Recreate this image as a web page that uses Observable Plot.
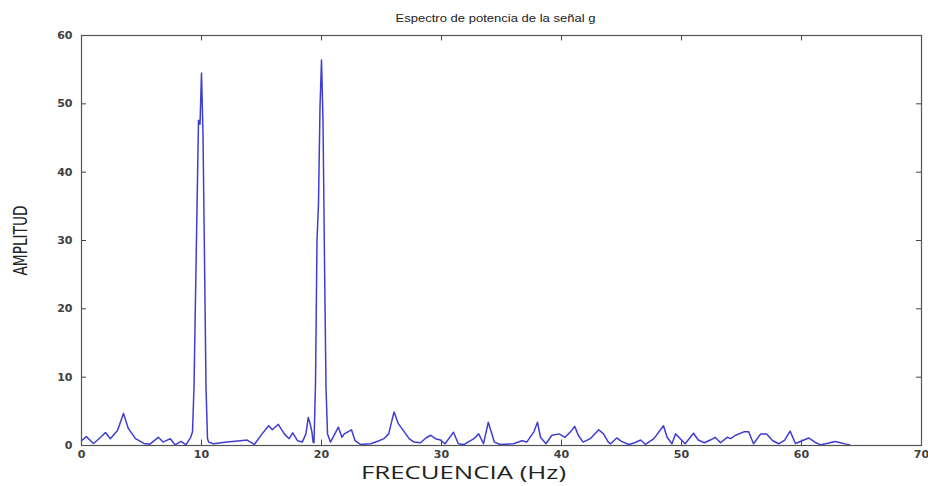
<!DOCTYPE html>
<html>
<head>
<meta charset="utf-8">
<script src="https://cdn.jsdelivr.net/npm/d3@7"></script>
<script src="https://cdn.jsdelivr.net/npm/@observablehq/plot@0.6"></script>
<style>
  html, body { margin: 0; padding: 0; background: white; }
</style>
</head>
<body>
<div id="chart"></div>
<script>
const title = "Espectro de potencia de la señal g";
const xLabel = "FRECUENCIA (Hz)";
const yLabel = "AMPLITUD";
const xTicks = [0, 10, 20, 30, 40, 50, 60, 70];
const yTicks = [0, 10, 20, 30, 40, 50, 60];

const freq = [
  0, 0.4, 1.0, 1.6, 2.0, 2.4, 3.0, 3.5, 3.9, 4.5, 5.2, 5.7, 6.4, 6.8, 7.4, 7.8, 8.3, 8.7, 9.1,
  9.25, 9.375, 9.5, 9.625, 9.75, 9.875, 10.0, 10.125, 10.25, 10.375, 10.5, 10.6,
  11.0, 12.1, 13.25, 13.8, 14.4, 15.05, 15.6, 15.9, 16.4, 16.9, 17.3, 17.6, 18.0, 18.4, 18.7, 18.9, 19.05, 19.2, 19.3,
  19.375, 19.5, 19.625, 19.75, 19.875, 20.0, 20.125, 20.25, 20.375, 20.5,
  20.75, 21.2, 21.4, 21.7, 21.9, 22.5, 22.8, 23.25, 24.1, 24.8, 25.2, 25.6, 25.9, 26.05, 26.4, 26.9, 27.3, 27.7,
  28.25, 28.7, 29.1, 29.5, 29.9, 30.3, 31.0, 31.4, 31.9, 32.7, 33.1, 33.5, 33.9, 34.4, 34.9, 36.0, 36.7, 37.1,
  37.7, 38.0, 38.25, 38.7, 39.2, 39.8, 40.3, 40.75, 41.1, 41.4, 41.8, 42.4, 43.1, 43.5, 43.9, 44.1, 44.6, 45.0,
  45.6, 46.1, 46.6, 47.0, 47.7, 48.5, 48.8, 49.2, 49.5, 49.9, 50.3, 51.0, 51.4, 51.9, 52.4, 52.8, 53.25, 53.8,
  54.1, 54.5, 55.2, 55.6, 56.0, 56.6, 57.1, 57.6, 58.1, 58.6, 59.05, 59.5, 60.05, 60.6, 61.2, 61.6, 62.1, 62.8,
  63.25, 63.7, 64.0
];
const amp = [
  0.7, 1.3, 0.3, 1.2, 1.9, 1.0, 2.2, 4.7, 2.5, 1.0, 0.3, 0.2, 1.2, 0.5, 1.0, 0.1, 0.6, 0.1, 1.2,
  2.0, 8.5, 21.7, 34.7, 47.6, 47.0, 54.5, 45.4, 27.4, 8.5, 1.0, 0.5,
  0.25, 0.5, 0.7, 0.8, 0.15, 1.7, 2.9, 2.3, 3.1, 1.7, 1.0, 1.85, 0.7, 0.5, 1.7, 4.1, 3.2, 2.0, 0.5,
  0.4, 9.0, 30.0, 35.5, 49.5, 56.4, 47.6, 27.0, 8.5, 1.7,
  0.5, 2.0, 2.7, 1.2, 1.7, 2.3, 0.7, 0.15, 0.25, 0.7, 1.0, 1.7, 3.9, 4.9, 3.2, 2.0, 1.0, 0.5,
  0.4, 1.1, 1.5, 1.0, 0.8, 0.25, 1.95, 0.25, 0.15, 1.0, 1.7, 0.25, 3.4, 0.5, 0.15, 0.25, 0.7, 0.5,
  2.0, 3.4, 1.2, 0.25, 1.5, 1.7, 1.2, 2.0, 2.8, 1.5, 0.5, 1.0, 2.3, 1.7, 0.5, 0.25, 1.1, 0.6,
  0.15, 0.4, 0.8, 0.15, 1.0, 2.9, 1.2, 0.25, 1.7, 1.0, 0.25, 1.8, 0.8, 0.4, 0.8, 1.2, 0.4, 1.2,
  1.0, 1.5, 2.0, 2.0, 0.25, 1.7, 1.7, 0.7, 0.25, 0.8, 2.1, 0.3, 0.7, 1.1, 0.4, 0.1, 0.3, 0.6,
  0.4, 0.2, 0.1
];

const data = freq.map((f, i) => ({f, a: amp[i]}));
const xDomain = [0, 70];
const yDomain = [0, 60];
const tickLenX = 0.8;   // in y units
const tickLenY = 0.42;  // in x units

const tickFont = "'DejaVu Sans', 'Liberation Sans', sans-serif";

const plot = Plot.plot({
  width: 928,
  height: 486,
  marginTop: 35,
  marginBottom: 41,
  marginLeft: 81,
  marginRight: 7,
  x: {domain: xDomain},
  y: {domain: yDomain},
  style: {fontFamily: tickFont, fontSize: "11px", background: "white", color: "#404040"},
  marks: [
    Plot.axisX(xTicks, {tickSize: 0, tickPadding: 5, label: null, fontWeight: "bold", fontSize: 11, fontFamily: tickFont}),
    Plot.axisY(yTicks, {tickSize: 0, tickPadding: 9, label: null, fontWeight: "bold", fontSize: 11, fontFamily: tickFont}),
    Plot.ruleX(xTicks, {x: d => d, y1: yDomain[0], y2: yDomain[0] + tickLenX, stroke: "#444"}),
    Plot.ruleX(xTicks, {x: d => d, y1: yDomain[1] - tickLenX, y2: yDomain[1], stroke: "#444"}),
    Plot.ruleY(yTicks, {y: d => d, x1: xDomain[0], x2: xDomain[0] + tickLenY, stroke: "#444"}),
    Plot.ruleY(yTicks, {y: d => d, x1: xDomain[1] - tickLenY, x2: xDomain[1], stroke: "#444"}),
    Plot.lineY(data, {x: "f", y: "a", stroke: "#3d3dd4", strokeWidth: 1.5, curve: "linear"}),
    Plot.frame({stroke: "#555", strokeWidth: 1.2}),
    Plot.text([title], {frameAnchor: "top", textAnchor: "middle", lineAnchor: "middle", dy: -17, dx: -6, text: d => d, fontSize: 10.5, fill: "#222", fontFamily: "'Liberation Sans', Arial, sans-serif"}),
    Plot.text([yLabel], {frameAnchor: "left", textAnchor: "middle", lineAnchor: "middle", rotate: -90, dx: -61, text: d => d, fontSize: 19, fill: "#222", fontFamily: "'Liberation Sans Narrow', 'DejaVu Sans Condensed', sans-serif"}),
    Plot.text([xLabel], {frameAnchor: "bottom", textAnchor: "middle", lineAnchor: "middle", dy: 28, dx: -38, text: d => d, fontSize: 18, fill: "#222", fontFamily: "'Open Sans', 'DejaVu Sans', sans-serif"})
  ]
});

// stretch the wide labels like the reference
d3.select(plot).selectAll("text").each(function() {
  const t = this.textContent;
  if (t === title) d3.select(this).attr("textLength", 200).attr("lengthAdjust", "spacingAndGlyphs");
  if (t === xLabel) d3.select(this).attr("textLength", 205).attr("lengthAdjust", "spacingAndGlyphs");
  if (t === yLabel) d3.select(this).attr("textLength", 70).attr("lengthAdjust", "spacingAndGlyphs");
});

document.getElementById("chart").appendChild(plot);
</script>
</body>
</html>
